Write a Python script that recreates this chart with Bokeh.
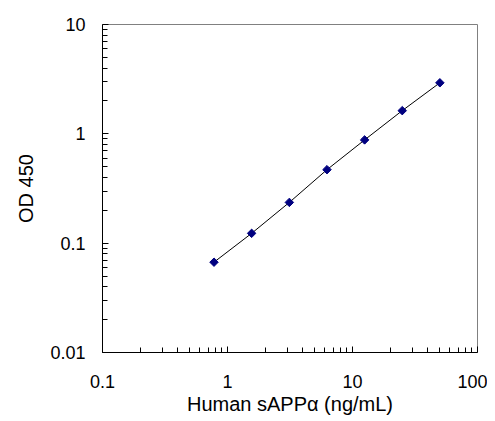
import math
from bokeh.plotting import figure
from bokeh.models import FixedTicker
from bokeh.embed import file_html
from bokeh.resources import INLINE

# Data
conc = [0.78, 1.56, 3.125, 6.25, 12.5, 25, 50]
od450 = [0.067, 0.123, 0.236, 0.47, 0.88, 1.63, 2.93]

x_ticks = [0.1, 1, 10, 100]
x_labels = ["0.1", "1", "10", "100"]
y_ticks = [0.01, 0.1, 1, 10]
y_labels = ["0.01", "0.1", "1", "10"]

def minor(majors):
    out = []
    for m in majors[:-1]:
        for k in range(2, 10):
            out.append(m * k)
    return out

FONT = "Liberation Sans"

p = figure(width=487, height=421, x_axis_type="log", y_axis_type="log",
           x_range=(0.1, 100), y_range=(0.01, 10),
           output_backend="svg", toolbar_location=None,
           min_border_left=102, min_border_right=10, min_border_top=24,
           min_border_bottom=69)

p.grid.visible = False
p.outline_line_color = "#808080"
p.outline_line_width = 1

p.xaxis.ticker = FixedTicker(ticks=x_ticks, minor_ticks=minor(x_ticks))
p.yaxis.ticker = FixedTicker(ticks=y_ticks, minor_ticks=minor(y_ticks))
p.xaxis.major_label_overrides = dict(zip(x_ticks, x_labels))
p.yaxis.major_label_overrides = dict(zip(y_ticks, y_labels))

for ax in (p.xaxis[0], p.yaxis[0]):
    ax.axis_line_color = "black"
    ax.axis_line_width = 1
    ax.major_tick_in = 6
    ax.major_tick_out = 0
    ax.minor_tick_in = 5
    ax.minor_tick_out = 0
    ax.major_tick_line_color = "black"
    ax.minor_tick_line_color = "black"
    ax.major_label_text_font = FONT
    ax.major_label_text_font_size = "18px"
    ax.major_label_text_color = "black"
    ax.axis_label_text_font = FONT
    ax.axis_label_text_font_size = "20px"
    ax.axis_label_text_font_style = "normal"
    ax.axis_label_text_color = "black"

p.xaxis.axis_label = "Human sAPPα (ng/mL)"
p.yaxis.axis_label = "OD 450"
p.xaxis.major_label_standoff = 22
p.xaxis.axis_label_standoff = 2
p.yaxis.major_label_standoff = 17
p.yaxis.axis_label_standoff = 10

p.line(conc, od450, line_color="black", line_width=1)
p.scatter(conc, od450, marker="square", size=6, angle=math.pi / 4,
          fill_color="#000080", line_color="#000080")

open("out.html", "w").write(file_html(p, INLINE))
